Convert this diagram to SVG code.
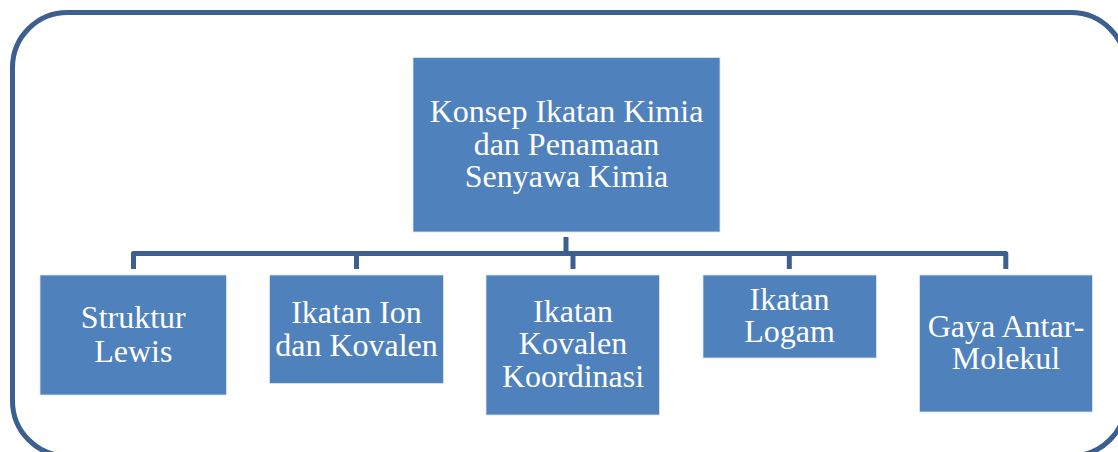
<svg xmlns="http://www.w3.org/2000/svg" width="1118" height="452" viewBox="0 0 1118 452">
  <style>
    .frame { fill: none; stroke: #3b5f8e; stroke-width: 5; }
    .box { fill: #4f81bd; stroke: #dce6f2; stroke-width: 0.8; }
    .lbl { fill: #ffffff; font-family: "Liberation Serif", "Times New Roman", serif; font-size: 32px; text-anchor: middle; }
    .conn { fill: none; stroke: #3b5f8e; stroke-width: 5; stroke-linejoin: round; }
  </style>
  <rect fill="#ffffff" x="0" y="0" width="1118" height="452"/>

  <!-- rounded outer border -->
  <rect class="frame" x="12.5" y="12.5" width="1113.5" height="443.5" rx="55" ry="55"/>

  <!-- hierarchy connectors -->
  <g id="connectors">
    <path class="conn" d="M566,237 V253.5"/>
    <path class="conn" d="M133.5,269 V253.5 H1005.8 V269"/>
    <path class="conn" d="M356.5,253.5 V269"/>
    <path class="conn" d="M573,253.5 V269"/>
    <path class="conn" d="M789.3,253.5 V269"/>
  </g>

  <g id="root">
    <rect class="box" x="413" y="57.5" width="307" height="174.5"/>
    <text class="lbl" x="566.5" y="121.7">Konsep Ikatan Kimia<tspan x="566.5" dy="33">dan Penamaan</tspan><tspan x="566.5" dy="32">Senyawa Kimia</tspan></text>
  </g>

  <g id="struktur-lewis">
    <rect class="box" x="40" y="275" width="186.5" height="120"/>
    <text class="lbl" x="133.3" y="328.3">Struktur<tspan x="133.3" dy="33.4">Lewis</tspan></text>
  </g>

  <g id="ikatan-ion-kovalen">
    <rect class="box" x="269.5" y="275" width="174" height="108.5"/>
    <text class="lbl" x="356.5" y="322.7">Ikatan Ion<tspan x="356.5" dy="33.3">dan Kovalen</tspan></text>
  </g>

  <g id="ikatan-kovalen-koordinasi">
    <rect class="box" x="486" y="275" width="173.5" height="140"/>
    <text class="lbl" x="573" y="321.7">Ikatan<tspan x="573" dy="32.6">Kovalen</tspan><tspan x="573" dy="32.4">Koordinasi</tspan></text>
  </g>

  <g id="ikatan-logam">
    <rect class="box" x="703" y="275" width="173.5" height="83"/>
    <text class="lbl" x="789.5" y="310">Ikatan<tspan x="789.5" dy="32.3">Logam</tspan></text>
  </g>

  <g id="gaya-antar-molekul">
    <rect class="box" x="919.5" y="275" width="173" height="137"/>
    <text class="lbl" x="1006" y="336.7">Gaya Antar-<tspan x="1006" dy="32.3">Molekul</tspan></text>
  </g>
</svg>
